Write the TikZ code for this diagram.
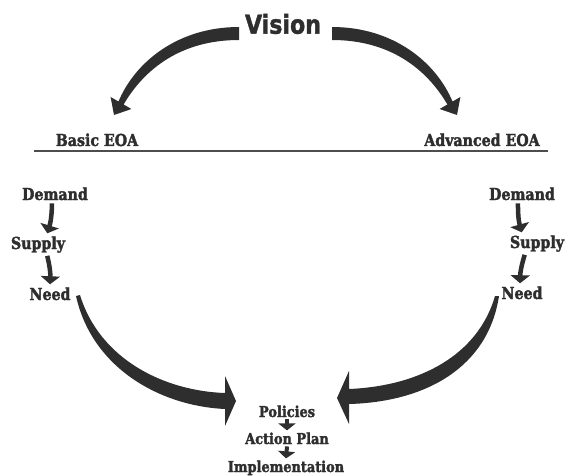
\documentclass[tikz,border=0pt]{standalone}
\usepackage{fontspec}
\newfontfamily\lblfont{DejaVu Serif}[FakeStretch=0.86, BoldFeatures={FakeBold=2}]
\newfontfamily\visfont{DejaVu Sans}[FakeStretch=0.85, BoldFeatures={FakeBold=1.5}]
\usepackage{tikz}
\usetikzlibrary{arrows.meta,positioning}
\definecolor{ink}{HTML}{2E2E2E}

\begin{document}
\begin{tikzpicture}[x=1pt,y=-1pt,
						every node/.style = {text=ink, inner sep=2pt},
						lbl/.style = {font=\lblfont\bfseries\fontsize{16.5}{18}\selectfont, anchor=base},
						steplbl/.style = {font=\lblfont\bfseries\fontsize{15}{16}\selectfont, anchor=base},
						flow/.style = {draw=ink, line width=4.5pt, -{Triangle[width=19pt,length=8pt]}, shorten <=1pt, shorten >=1pt},
						smallflow/.style = {draw=ink, line width=4pt, -{Triangle[width=17pt,length=7pt]}, shorten <=0pt, shorten >=0pt}
						]

					\useasboundingbox (0,0) rectangle (567,476);

					\node (vision) at (283,24) {\visfont\bfseries\fontsize{26}{28}\selectfont Vision};
					\node[lbl] (basic) at (97,146) {Basic EOA};
					\node[lbl] (adv) at (482,146) {Advanced EOA};

					\draw[ink!85,line width=1.3pt] (34,151) -- (548,151);

					% arrows from the vision
					\fill[ink] (239,27) .. controls (178,27) and (135,62) .. (118.5,101.5) -- (110.6,97) -- (114,115) -- (131.4,109) -- (123.6,104.5) .. controls (145,68) and (182,40) .. (239,40) -- cycle;
					\fill[ink] (332,27) .. controls (393,27) and (436,62) .. (452.5,101.5) -- (460.4,97) -- (457,115) -- (439.6,109) -- (447.4,104.5) .. controls (426,68) and (389,40) .. (332,40) -- cycle;

					% left column
					\node[lbl] (demL) at (55,200) {Demand};
					\node[lbl] (supL) at (38,249) {Supply};
					\node[lbl] (needL) at (50,300) {Need};
					\draw[flow] ([xshift=-3pt]demL.south) to[bend left=8] ([xshift=9pt]supL.north);
					\draw[flow] ([xshift=9pt]supL.south) to[bend left=8] (needL.north);

					% right column
					\node[lbl] (demR) at (522,200) {Demand};
					\node[lbl] (supR) at (537,248) {Supply};
					\node[lbl] (needR) at (522,299) {Need};
					\draw[flow] ([xshift=-4pt]demR.south) to[bend right=8] ([xshift=-15pt]supR.north);
					\draw[flow] ([xshift=-12pt]supR.south) to[bend right=8] ([xshift=-2pt]needR.north);

					% arrows into the plan
					\fill[ink] (76,296) .. controls (92,368) and (160,406) .. (225,409) -- (225,426) -- (236,401) -- (225,376) -- (225,393) .. controls (165,391) and (100,360) .. (80,295) -- cycle;
					\fill[ink] (499,296) .. controls (488,368) and (425,402) .. (349,404) -- (349,424) -- (337,398) -- (349,371) -- (349,389) .. controls (420,386) and (478,355) .. (495,296) -- cycle;

					\node[steplbl] (pol) at (287,417) {Policies};
					\node[steplbl] (plan) at (287,444) {Action Plan};
					\node[steplbl] (impl) at (286,472) {Implementation};
					\draw[smallflow] (pol.south) -- (plan.north);
					\draw[smallflow] (plan.south) -- (impl.north);

				\end{tikzpicture}
\end{document}
